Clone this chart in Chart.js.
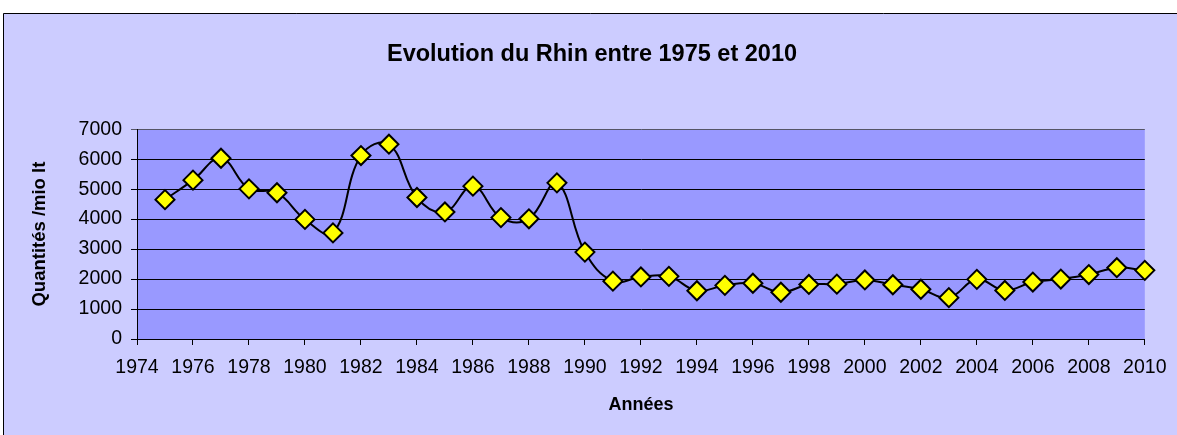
<!DOCTYPE html>
<html>
<head>
<meta charset="utf-8">
<script src="https://cdn.jsdelivr.net/npm/chart.js@4/dist/chart.umd.min.js"></script>
<style>
  html, body { margin: 0; padding: 0; background: #fff; }
  #wrap { width: 1177px; height: 435px; }
</style>
</head>
<body>
<div id="wrap"><canvas id="myChart" width="1177" height="435"></canvas></div>
<script>
const years = [1975, 1976, 1977, 1978, 1979, 1980, 1981, 1982, 1983, 1984, 1985, 1986,
  1987, 1988, 1989, 1990, 1991, 1992, 1993, 1994, 1995, 1996, 1997, 1998, 1999, 2000,
  2001, 2002, 2003, 2004, 2005, 2006, 2007, 2008, 2009, 2010];
const quantities = [4650, 5300, 6030, 5010, 4880, 3990, 3540, 6120, 6500, 4720, 4240, 5100,
  4050, 4010, 5210, 2900, 1930, 2070, 2090, 1610, 1790, 1860, 1560, 1820, 1830, 1970,
  1810, 1660, 1380, 1990, 1620, 1900, 2000, 2150, 2380, 2290];
const xMin = 1974, xMax = 2010, xStep = 2;
const yMin = 0, yMax = 7000, yStep = 1000;

const chartTitle = 'Evolution du Rhin entre 1975 et 2010';
const xTitle = 'Années';
const yTitle = 'Quantités /mio lt';

const FONT = "'Liberation Sans', Arial, sans-serif";

// backgrounds: outer lavender box and the plot area
const backgrounds = {
    id: 'backgrounds',
    beforeDraw(chart) {
        const c = chart.ctx;
        const a = chart.chartArea;
        c.save();
        c.fillStyle = '#ffffff';
        c.fillRect(0, 0, chart.width, chart.height);
        c.fillStyle = '#CCCCFF';
        c.fillRect(3, 13, chart.width, chart.height);
        c.strokeStyle = '#000000';
        c.lineWidth = 1;
        c.beginPath();
        c.moveTo(3.5, chart.height);
        c.lineTo(3.5, 13.5);
        c.lineTo(chart.width, 13.5);
        c.stroke();
        c.fillStyle = '#9999FF';
        c.fillRect(a.left, a.top, a.right - a.left, a.bottom - a.top);
        c.restore();
    }
};

let ctx = document.getElementById('myChart').getContext('2d');

new Chart(ctx, {
    type: 'line',
    data: {
        datasets: [
            {
                label: 'Rhin',
                data: years.map((y, i) => ({ x: y, y: quantities[i] })),
                borderColor: '#000000',
                borderWidth: 2,
                tension: 0.4,
                pointStyle: 'rectRot',
                pointRadius: 9.5,
                pointBackgroundColor: '#FFFF00',
                pointBorderColor: '#000000',
                pointBorderWidth: 2,
                clip: false,
            },
        ],
    },
    options: {
        responsive: false,
        animation: false,
        events: [],
        layout: {
            // left padding shifts the centred title to the middle of the outer box
            padding: { left: 36, right: 29, top: 0, bottom: 0 },
        },
        plugins: {
            legend: { display: false },
            tooltip: { enabled: false },
            title: {
                display: true,
                text: chartTitle,
                color: '#000000',
                font: { family: FONT, size: 23.5, weight: 'bold' },
                padding: { top: 40, bottom: 61 },
            },
        },
        scales: {
            x: {
                type: 'linear',
                min: xMin,
                max: xMax,
                afterFit(scale) { scale.height = 96; },
                ticks: {
                    stepSize: xStep,
                    color: '#000000',
                    padding: 10.5,
                    maxRotation: 0,
                    autoSkip: false,
                    font: { family: FONT, size: 19.5 },
                    callback: (v) => String(v),
                },
                grid: {
                    drawOnChartArea: false,
                    drawTicks: true,
                    tickLength: 6,
                    color: '#000000',
                },
                border: { display: true, color: '#000000', width: 1 },
                title: {
                    display: true,
                    text: xTitle,
                    color: '#000000',
                    font: { family: FONT, size: 18, weight: 'bold' },
                    padding: { top: 0, bottom: 19 },
                },
            },
            y: {
                min: yMin,
                max: yMax,
                afterFit(scale) { scale.width = 101; },
                ticks: {
                    stepSize: yStep,
                    color: '#000000',
                    padding: 9,
                    font: { family: FONT, size: 19.5 },
                    callback: (v) => String(v),
                },
                grid: {
                    color: (c) => (c.tick && c.tick.value === yMax ? '#555566' : '#000000'),
                    lineWidth: 1,
                    drawTicks: true,
                    tickLength: 6,
                },
                border: { display: true, color: '#000000', width: 1 },
                title: {
                    display: true,
                    text: yTitle,
                    color: '#000000',
                    font: { family: FONT, size: 18.5, weight: 'bold' },
                    padding: { top: -7, bottom: 0 },
                },
            },
        },
    },
    plugins: [backgrounds],
});
</script>
</body>
</html>
